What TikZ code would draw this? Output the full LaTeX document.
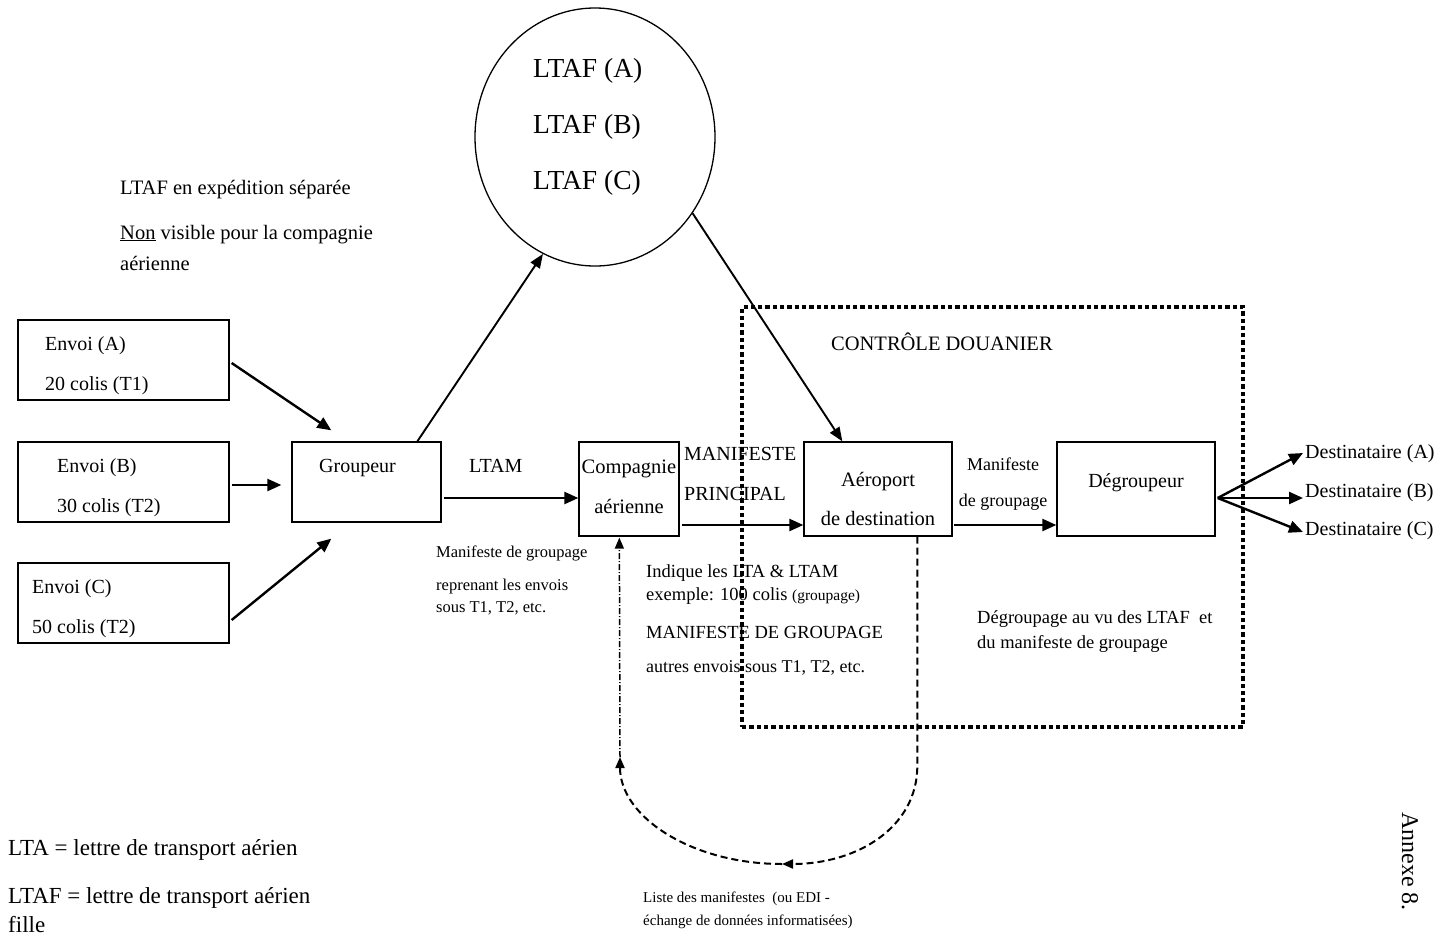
\documentclass[tikz,border=0pt]{standalone}
\usepackage{fontspec}
\setmainfont{Liberation Serif}
\usetikzlibrary{arrows.meta,calc,shapes.geometric}
\newcommand\tsz[1]{\fontsize{#1pt}{#1pt}\selectfont}
\begin{document}
\begin{tikzpicture}[x=1pt,y=-1pt,
  box/.style={draw, line width=1.3pt, inner sep=0pt},
  txt/.style={inner sep=0pt, anchor=base west},
  ctxt/.style={inner sep=0pt, anchor=base},
  arr/.style={line width=2.4pt, -{Triangle[length=14pt,width=12pt]}},
  tarr/.style={line width=1.9pt, -{Triangle[length=14pt,width=11pt]}},
  dsh/.style={line width=2pt, dash pattern=on 7pt off 4pt, -{Triangle[length=11pt,width=9pt]}},
  dshd/.style={line width=1.5pt, dash pattern=on 6pt off 2pt on 1pt off 2pt, -{Triangle[length=11pt,width=9pt]}},
  dotbox/.style={draw, line width=4.2pt, dash pattern=on 4.3pt off 3pt, inner sep=0pt}]
\useasboundingbox (0,0) rectangle (1444,937);

% LTAF bubble
\node[ellipse, draw, line width=1.3pt, minimum width=240pt, minimum height=258pt, inner sep=0pt] (circ) at (595,137) {};
\node[txt] (la) at (533,77) {\tsz{27.5}LTAF (A)};
\node[txt] (lb) at (533,133) {\tsz{27.5}LTAF (B)};
\node[txt] (lc) at (533,189) {\tsz{27.5}LTAF (C)};

\node[txt] (sep1) at (120,194) {\tsz{20.5}LTAF en expédition séparée};
\node[txt] (sep2) at (120,239) {\tsz{20.5}\underline{Non} visible pour la compagnie};
\node[txt] (sep3) at (120,270) {\tsz{20.5}aérienne};

% customs zone
\node[dotbox, minimum width=501pt, minimum height=420pt] (douane) at (992.5,517) {};
\node[txt] (ctrl) at (831,350) {\tsz{20.5}CONTRÔLE DOUANIER};

% shipments
\node[box, minimum width=211pt, minimum height=80pt] (envA) at (123.5,360) {};
\node[box, minimum width=211pt, minimum height=80pt] (envB) at (123.5,482) {};
\node[box, minimum width=211pt, minimum height=80pt] (envC) at (123.5,603) {};
\node[txt] (ea1) at (45,350) {\tsz{20}Envoi (A)};
\node[txt] (ea2) at (45,390) {\tsz{20}20 colis (T1)};
\node[txt] (eb1) at (57,472) {\tsz{20}Envoi (B)};
\node[txt] (eb2) at (57,512) {\tsz{20}30 colis (T2)};
\node[txt] (ec1) at (32,593) {\tsz{20}Envoi (C)};
\node[txt] (ec2) at (32,633) {\tsz{20}50 colis (T2)};

% main chain
\node[box, minimum width=149pt, minimum height=80pt] (grp) at (366.5,482) {};
\node[txt] (grpt) at (319,472) {\tsz{20}Groupeur};
\node[box, minimum width=100pt, minimum height=94pt] (comp) at (629,489) {};
\node[ctxt] (comp1) at (629,473) {\tsz{20.5}Compagnie};
\node[ctxt] (comp2) at (629,513) {\tsz{20.5}aérienne};
\node[box, minimum width=148pt, minimum height=94pt] (aero) at (878,489) {};
\node[ctxt] (aero1) at (878,486) {\tsz{20.5}Aéroport};
\node[ctxt] (aero2) at (878,525) {\tsz{20.5}de destination};
\node[box, minimum width=158pt, minimum height=94pt] (degr) at (1136,489) {};
\node[ctxt] (degrt) at (1136,487) {\tsz{20}Dégroupeur};

\node[txt] (ltam) at (469,472) {\tsz{20}LTAM};
\node[txt] (mp1) at (684,460) {\tsz{20}MANIFESTE};
\node[txt] (mp2) at (684,500) {\tsz{20}PRINCIPAL};
\node[ctxt] (mg1) at (1003,470) {\tsz{18}Manifeste};
\node[ctxt] (mg2) at (1003,506) {\tsz{18}de groupage};

\node[txt] (dA) at (1305,458) {\tsz{20}Destinataire (A)};
\node[txt] (dB) at (1305,497) {\tsz{20}Destinataire (B)};
\node[txt] (dC) at (1305,535) {\tsz{20}Destinataire (C)};

% notes
\node[txt] (n1) at (436,557) {\tsz{16.5}Manifeste de groupage};
\node[txt] (n2) at (436,590) {\tsz{16.5}reprenant les envois};
\node[txt] (n3) at (436,612) {\tsz{16.5}sous T1, T2, etc.};
\node[txt] (i1) at (646,577) {\tsz{18.5}Indique les LTA \& LTAM};
\node[txt] (i2) at (646,600) {\tsz{18.5}exemple: 100 colis {\tsz{15.5}(groupage)}};
\node[txt] (i3) at (646,638) {\tsz{18.5}MANIFESTE DE GROUPAGE};
\node[txt] (i4) at (646,672) {\tsz{18}autres envois sous T1, T2, etc.};
\node[txt] (g1) at (977,623) {\tsz{18.5}Dégroupage au vu des LTAF\ \ et};
\node[txt] (g2) at (977,648) {\tsz{18.5}du manifeste de groupage};
\node[txt] (lst1) at (643,902) {\tsz{15}Liste des manifestes\ \ (ou EDI -};
\node[txt] (lst2) at (643,925) {\tsz{15}échange de données informatisées)};

% legend
\node[txt] (lg1) at (8,855) {\tsz{23}LTA = lettre de transport aérien};
\node[txt] (lg2) at (8,903) {\tsz{23}LTAF = lettre de transport aérien};
\node[txt] (lg3) at (8,932) {\tsz{23}fille};
\node[txt, rotate=-90] (annexe) at (1402,812) {\tsz{24}Annexe 8.};

% connectors
\draw[arr] ($(envA.east)+(2,3)$) -- ($(grp.north west)+(40,-11)$);
\draw[arr] ($(envB.east)+(2,3)$) -- ($(grp.west)+(-10,3)$);
\draw[arr] ($(envC.east)+(2,17)$) -- ($(grp.south west)+(40,16)$);
\draw[tarr] ($(grp.north west)+(126,0)$) -- (circ.246);
\draw[tarr] (circ.322) -- ($(aero.north west)+(39,0)$);
\draw[arr] ($(grp.east)+(2,16)$) -- ($(comp.west)+(0,9)$);
\draw[arr] ($(comp.east)+(2,36)$) -- ($(aero.west)+(0,36)$);
\draw[arr] ($(aero.east)+(1,36)$) -- ($(degr.west)+(0,36)$);
\coordinate (fan) at ($(degr.east)+(2,9)$);
\draw[arr] (fan) -- ($(dA.base west)+(-2,-5)$);
\draw[arr] (fan) -- ($(dB.base west)+(-2,1)$);
\draw[arr] (fan) -- ($(dC.base west)+(-2,-3)$);

% EDI loop
\coordinate (lowR) at ($(aero.south west)+(114,229)$);
\coordinate (loopB) at (782,864);
\coordinate (loopL) at (620,757);
\draw[dsh] ($(aero.south west)+(114,0)$) -- (lowR) .. controls ($(lowR)+(0,62)$) and ($(loopB)+(75,0)$) .. (loopB);
\draw[dsh] (loopB) .. controls ($(loopB)+(-90,0)$) and ($(loopL)+(0,60)$) .. (loopL);
\draw[dshd] (loopL) -- ($(comp.south west)+(41,1)$);
\end{tikzpicture}
\end{document}
